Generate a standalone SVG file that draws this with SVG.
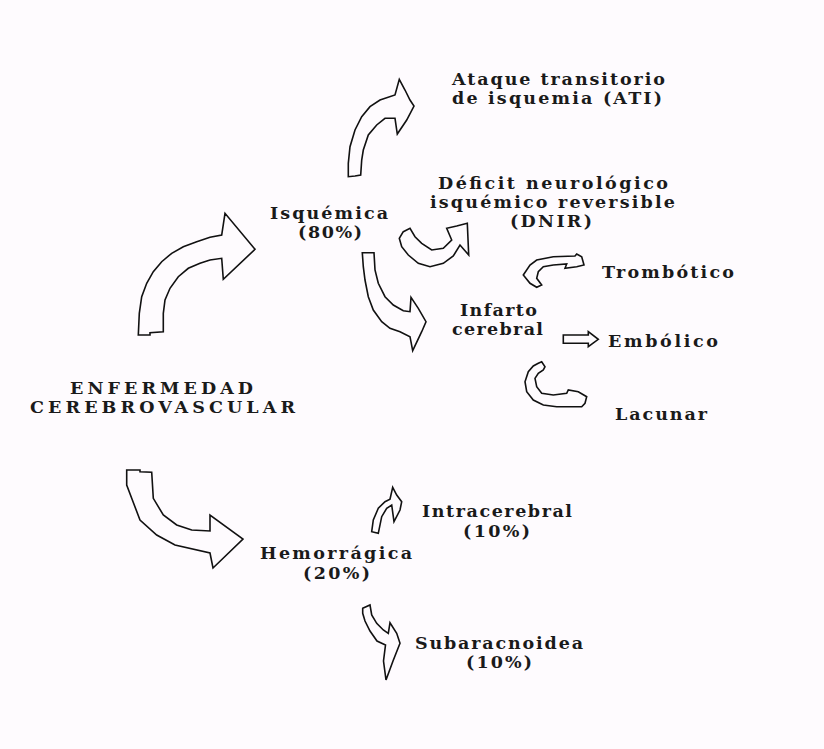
<svg xmlns="http://www.w3.org/2000/svg" width="824" height="749" viewBox="0 0 824 749">
<style>
.t{font-family:"DejaVu Serif","Liberation Serif",serif;font-weight:bold;font-size:17.5px;fill:#1a1a1a}
.a{fill:#fefbfe;stroke:#111;stroke-width:1.6;stroke-linejoin:miter}
</style>
<rect width="824" height="749" fill="#fefbfe"/>
<g id="connectors">
<polygon id="a-isquemica" class="a" points="138.3,335 139.3,313.3 141.7,296.7 146.7,283.3 153.3,271.7 161.7,261.7 171.7,253.3 183.3,246.7 196.7,241.7 210,237.3 221.7,235 225,213.3 255,249.3 223.3,279.3 221.7,258.3 210,260 200,263.3 188.3,268.3 178.3,276.7 170,288.3 165,300 163.3,313.3 163.3,331.7 150,332.7 150,335"/>
<polygon id="a-ati" class="a" points="348.3,176.7 348.3,163.3 350,146.7 355,130 361.7,116.7 370,106.7 380,100 395,95 399.3,79.3 405,90 410,100 414,106 406.7,120 397.3,134 395,118.3 385,118.3 376.7,125 368.3,135 363.3,150 361.7,160 360.7,175 355,176"/>
<polygon id="a-infarto" class="a" points="362.3,252.7 374,252.7 375,270 378.3,283.3 385,296.7 393.3,305 403.3,310.7 410,311.7 411,297.3 418.3,308.3 426,321.7 421.7,331.7 412.7,350.7 410,336.7 400,331.7 390,328.3 381.7,321.7 373.3,310 368.3,296.7 365,280 363.3,266.7"/>
<polygon id="a-dnir" class="a" points="403.3,231.7 410,228.3 415,236.7 421.7,243.3 431.7,250 443.3,248.3 451.7,240 446.7,228.3 456.7,226 467.3,223.3 468.7,255 460,245 453.3,256 443.3,263.3 430,266.7 418.3,263.3 408.3,255 401.7,246.7 399.3,238.3"/>
<polygon id="a-hemorragica" class="a" points="126.7,470 140,470 140,471.7 151.7,472.3 153.3,498.3 163.3,515 176.7,525 191.7,530 210,531 210,515 243,539 213,568 210,553 175,545 156.7,535 140,520 131.7,498.3 126.7,485"/>
<polygon id="a-intracerebral" class="a" points="371.7,531.7 373.3,520 378.3,508.3 385,501.7 390,499.3 392.7,487.3 396.7,495 401.7,501.7 400,510 394,521.7 391.7,505 386.7,508.3 381.7,516.7 378.3,533.3"/>
<polygon id="a-subaracnoidea" class="a" points="362.7,608.3 370,605 371.7,615 376.7,623.3 383.3,630 388.3,633.3 390,622.7 396.7,633.3 400,643.3 393,661 386,680 383.5,661 385.5,645 377,641 370,631 365,621 362.7,613.3"/>
<polygon id="a-trombotico" class="a" points="523.3,275 530,265 536.7,260 553.3,256.7 575,256 576.7,254 581.7,256.7 584,265 576.7,266.7 565,268.3 566.7,264 553.3,265 543.3,266.7 538.3,271.7 536.7,278.3 541.7,285 536.7,287.3 530,283.3"/>
<polygon id="a-embolico" class="a" points="563.3,335 588.3,335 588.3,331.7 598.3,339.3 588.3,346.7 588.3,343.3 563.3,343.3"/>
<polygon id="a-lacunar" class="a" points="538.3,363.3 541.7,361.7 545,366.7 543.3,370 538.3,373.3 535,378.3 536.7,386.7 541.7,393.3 553.3,395 566.7,393.3 568.3,390 578.3,391.7 586.7,396.7 585,403.3 581.7,406.7 568.3,406.7 556.7,406.7 543.3,405 533.3,400 526.7,391.7 525,381.7 528.3,371.7 533.3,366"/>
</g>
<g id="n-enfermedad">
<text class="t" x="70" y="394" textLength="183" lengthAdjust="spacing">ENFERMEDAD</text>
<text class="t" x="30" y="413" textLength="265" lengthAdjust="spacing">CEREBROVASCULAR</text>
</g>
<g id="n-isquemica">
<text class="t" x="270" y="219" textLength="118" lengthAdjust="spacing">Isquémica</text>
<text class="t" x="298" y="238" textLength="64" lengthAdjust="spacing">(80%)</text>
</g>
<g id="n-ati">
<text class="t" x="452" y="85" textLength="213" lengthAdjust="spacing">Ataque transitorio</text>
<text class="t" x="452" y="104" textLength="210" lengthAdjust="spacing">de isquemia (ATI)</text>
</g>
<g id="n-dnir">
<text class="t" x="438" y="189" textLength="230" lengthAdjust="spacing">Déficit neurológico</text>
<text class="t" x="430" y="208" textLength="245" lengthAdjust="spacing">isquémico reversible</text>
<text class="t" x="510" y="227" textLength="82" lengthAdjust="spacing">(DNIR)</text>
</g>
<g id="n-infarto">
<text class="t" x="460" y="316" textLength="77" lengthAdjust="spacing">Infarto</text>
<text class="t" x="452" y="335" textLength="91" lengthAdjust="spacing">cerebral</text>
</g>
<g id="n-trombotico">
<text class="t" x="602" y="278" textLength="132" lengthAdjust="spacing">Trombótico</text>
</g>
<g id="n-embolico">
<text class="t" x="608" y="347" textLength="110" lengthAdjust="spacing">Embólico</text>
</g>
<g id="n-lacunar">
<text class="t" x="615" y="420" textLength="92" lengthAdjust="spacing">Lacunar</text>
</g>
<g id="n-hemorragica">
<text class="t" x="260" y="559" textLength="152" lengthAdjust="spacing">Hemorrágica</text>
<text class="t" x="303" y="579" textLength="67" lengthAdjust="spacing">(20%)</text>
</g>
<g id="n-intracerebral">
<text class="t" x="422" y="517" textLength="150" lengthAdjust="spacing">Intracerebral</text>
<text class="t" x="463" y="537" textLength="67" lengthAdjust="spacing">(10%)</text>
</g>
<g id="n-subaracnoidea">
<text class="t" x="415" y="649" textLength="168" lengthAdjust="spacing">Subaracnoidea</text>
<text class="t" x="466" y="668" textLength="66" lengthAdjust="spacing">(10%)</text>
</g>
</svg>
